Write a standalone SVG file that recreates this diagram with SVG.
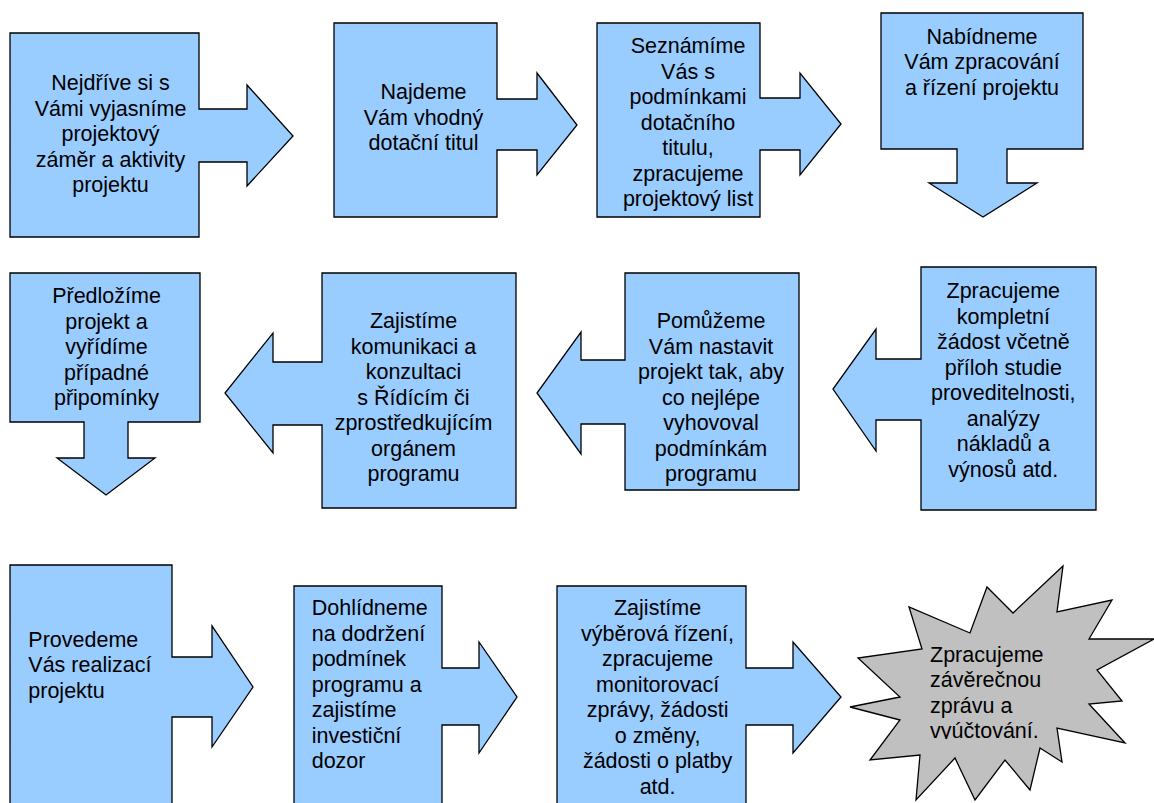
<svg xmlns="http://www.w3.org/2000/svg" width="1154" height="803" viewBox="0 0 1154 803">
<style>
.s{fill:#99ccff;stroke:#000;stroke-width:1.3;stroke-linejoin:miter}
.st{fill:#c0c0c0;stroke:#000;stroke-width:1.3}
text{font-family:"Liberation Sans",Arial,sans-serif;font-size:21.5px;fill:#000}
.c{text-anchor:middle}
</style>
<defs><clipPath id="cl"><rect x="900" y="600" width="200" height="139"/></clipPath></defs>
<rect width="1154" height="803" fill="#fff"/>
<g id="n1"><path class="s" d="M10,33 H199 V109 H247 V85 L293,136 L247,186 V162 H199 V237 H10 Z"/>
<text class="c" x="110.5"><tspan x="110.5" y="90">Nejdříve si s</tspan><tspan x="110.5" y="115.5">Vámi vyjasníme</tspan><tspan x="110.5" y="141">projektový</tspan><tspan x="110.5" y="166.5">záměr a aktivity</tspan><tspan x="110.5" y="192">projektu</tspan></text></g>
<g id="n2"><path class="s" d="M334,23 H497 V99 H537 V73 L577,125 L537,175 V150 H497 V217 H334 Z"/>
<text class="c"><tspan x="423.5" y="99.3">Najdeme</tspan><tspan x="423.5" y="124.8">Vám vhodný</tspan><tspan x="423.5" y="150.3">dotační titul</tspan></text></g>
<g id="n3"><path class="s" d="M597,23 H760 V98 H800 V73 L841,124 L800,175 V150 H760 V217 H597 Z"/>
<text class="c"><tspan x="688" y="53.3">Seznámíme</tspan><tspan x="688" y="78.8">Vás s</tspan><tspan x="688" y="104.3">podmínkami</tspan><tspan x="688" y="129.8">dotačního</tspan><tspan x="688" y="155.3">titulu,</tspan><tspan x="688" y="180.8">zpracujeme</tspan><tspan x="688" y="206.3">projektový list</tspan></text></g>
<g id="n4"><path class="s" d="M881,13 H1083 V149 H1007 V183 H1037 L983,217 L929,183 H957 V149 H881 Z"/>
<text class="c"><tspan x="982" y="43.5">Nabídneme</tspan><tspan x="982" y="69">Vám zpracování</tspan><tspan x="982" y="94.5">a řízení projektu</tspan></text></g>
<g id="n5"><path class="s" d="M10,273 H200 V422 H128 V458 H155 L106,495 L57,458 H84 V422 H10 Z"/>
<text class="c"><tspan x="106.5" y="303.3">Předložíme</tspan><tspan x="106.5" y="328.8">projekt a</tspan><tspan x="106.5" y="354.3">vyřídíme</tspan><tspan x="106.5" y="379.8">případné</tspan><tspan x="106.5" y="405.3">připomínky</tspan></text></g>
<g id="n6"><path class="s" d="M322,273 H516 V508 H322 V425 H273 V453 L225,393 L273,333 V362 H322 Z"/>
<text class="c"><tspan x="413.5" y="328.3">Zajistíme</tspan><tspan x="413.5" y="353.8">komunikaci a</tspan><tspan x="413.5" y="379.3">konzultaci</tspan><tspan x="413.5" y="404.8">s Řídícím či</tspan><tspan x="413.5" y="430.3">zprostředkujícím</tspan><tspan x="413.5" y="455.8">orgánem</tspan><tspan x="413.5" y="481.3">programu</tspan></text></g>
<g id="n7"><path class="s" d="M625,273 H799 V490 H625 V424 H581 V454 L537,393 L581,332 V360 H625 Z"/>
<text class="c"><tspan x="711" y="328.3">Pomůžeme</tspan><tspan x="711" y="353.8">Vám nastavit</tspan><tspan x="711" y="379.3">projekt tak, aby</tspan><tspan x="711" y="404.8">co nejlépe</tspan><tspan x="711" y="430.3">vyhovoval</tspan><tspan x="711" y="455.8">podmínkám</tspan><tspan x="711" y="481.3">programu</tspan></text></g>
<g id="n8"><path class="s" d="M921,267 H1096 V510 H921 V420 H876 V451 L833,389 L876,329 V359 H921 Z"/>
<text class="c"><tspan x="1003.3" y="298.3">Zpracujeme</tspan><tspan x="1003.3" y="323.8">kompletní</tspan><tspan x="1003.3" y="349.3">žádost včetně</tspan><tspan x="1003.3" y="374.8">příloh studie</tspan><tspan x="1003.3" y="400.3">proveditelnosti,</tspan><tspan x="1003.3" y="425.8">analýzy</tspan><tspan x="1003.3" y="451.3">nákladů a</tspan><tspan x="1003.3" y="476.8">výnosů atd.</tspan></text></g>
<g id="n9"><path class="s" d="M10,565 H172 V657 H212 V626 L253,687 L212,747 V717 H172 V820 H10 Z"/>
<text><tspan x="28.3" y="646.7">Provedeme</tspan><tspan x="28.3" y="672.2">Vás realizací</tspan><tspan x="28.3" y="697.7">projektu</tspan></text></g>
<g id="n10"><path class="s" d="M294,586 H442 V668 H479 V642 L517,697 L479,753 V725 H442 V820 H294 Z"/>
<text><tspan x="311.7" y="615">Dohlídneme</tspan><tspan x="311.7" y="640.5">na dodržení</tspan><tspan x="311.7" y="666">podmínek</tspan><tspan x="311.7" y="691.5">programu a</tspan><tspan x="311.7" y="717">zajistíme</tspan><tspan x="311.7" y="742.5">investiční</tspan><tspan x="311.7" y="768">dozor</tspan></text></g>
<g id="n11"><path class="s" d="M557,586 H746 V668 H793 V642 L841,697 L793,753 V725 H746 V820 H557 Z"/>
<text class="c"><tspan x="657.6" y="615">Zajistíme</tspan><tspan x="657.6" y="640.5">výběrová řízení,</tspan><tspan x="657.6" y="666">zpracujeme</tspan><tspan x="657.6" y="691.5">monitorovací</tspan><tspan x="657.6" y="717">zprávy, žádosti</tspan><tspan x="657.6" y="742.5">o změny,</tspan><tspan x="657.6" y="768">žádosti o platby</tspan><tspan x="657.6" y="793.5">atd.</tspan></text></g>
<g id="n12"><polygon class="st" points="1063,566 1057,612 1112,600 1089,639 1154,639 1097,670 1122,701 1089,704 1125,743 1057,728 1062,762 1040,748 1030,790 1005,760 975,800 955,758 916,800 920,755 870,760 900,720 850,707 900,697 858,658 922,649 909,607 970,633 987,587 1013,613"/>
<text clip-path="url(#cl)"><tspan x="930" y="661.7">Zpracujeme</tspan><tspan x="930" y="687.2">závěrečnou</tspan><tspan x="930" y="712.7">zprávu a</tspan><tspan x="930" y="738.2">vyúčtování.</tspan></text></g>
<g id="connectors"></g>
</svg>
